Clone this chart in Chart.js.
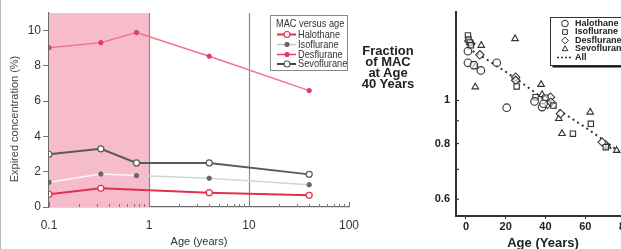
<!DOCTYPE html>
<html><head><meta charset="utf-8">
<script src="https://cdn.jsdelivr.net/npm/chart.js@4/dist/chart.umd.min.js"></script>
<style>
html,body{margin:0;padding:0;background:#fff;width:621px;height:249px;overflow:hidden;position:relative;font-family:"Liberation Sans",Arial,sans-serif}
#c1{position:absolute;left:0;top:0}
#c2{position:absolute;left:400px;top:0}
#frac{position:absolute;left:348px;top:45px;width:80px;text-align:center;font-weight:bold;font-size:13px;line-height:11px;color:#222}
#edge{position:absolute;left:0;top:0;width:1px;height:249px;background:#b5b5b5}
</style></head><body>
<div id="edge"></div>
<canvas id="c1" width="360" height="249"></canvas>
<div id="frac">Fraction<br>of MAC<br>at Age<br>40 Years</div>
<canvas id="c2" width="260" height="249"></canvas>
<script>
// ---------- Left chart data: MAC versus age ----------
const ageYears = [0.1, 0.33, 0.75, 4, 40];
const halothane   = [0.72, 1.06, null, 0.81, 0.66];
const isoflurane  = [1.40, 1.87, 1.78, 1.63, 1.26];
const desflurane  = [9.03, 9.32, 9.89, 8.55, 6.60];
const sevoflurane = [2.99, 3.30, 2.50, 2.50, 1.85];
const leftXLabels = [0.1, 1, 10, 100];
const leftYTicks = [0, 2, 4, 6, 8, 10];

// ---------- Right chart data: fraction of MAC at age 40 ----------
const haloAge = [1, 1, 4, 7.5, 15.5, 20.5, 34.5, 38.3, 39];
const haloVal = [1.29, 1.215, 1.20, 1.168, 1.215, 0.963, 0.995, 0.966, 0.983];
const isoAge = [1, 1.3, 2, 2.5, 25.5, 35, 40, 44, 53.8, 62.8, 70.3];
const isoVal = [1.40, 1.37, 1.35, 1.33, 1.075, 1.017, 1.014, 0.974, 0.842, 0.886, 0.785];
const desAge = [1.5, 2.5, 7, 25, 25, 41, 42.5, 42.7, 47.5, 68.5];
const desVal = [1.36, 1.34, 1.266, 1.128, 1.11, 0.98, 1.017, 0.991, 0.934, 0.806];
const sevoAge = [2, 4.7, 4.7, 7.7, 24.7, 37.8, 38.3, 46.7, 48.3, 62.5, 71.3, 75.8];
const sevoVal = [1.35, 1.19, 1.072, 1.329, 1.376, 1.086, 1.031, 0.910, 0.842, 0.941, 0.789, 0.772];
const trendAge = [1, 10, 20, 30, 40, 50, 60, 70, 80];
const trendVal = [1.31, 1.24, 1.16, 1.08, 1.0, 0.93, 0.87, 0.81, 0.75];
const rightYLabels = [0.6, 0.8, 1];
const rightXTicks = [0, 20, 40, 60, 80];

const FONT = '"Liberation Sans", Arial, sans-serif';
const pts = (xs, ys) => xs.map((x, i) => ({x: x, y: ys[i]}));
const noPad = s => { s.paddingLeft = 0; s.paddingRight = 0; s.paddingTop = 0; s.paddingBottom = 0; };

// ---------- Left chart ----------
const shadePlugin = {
  id: 'shade',
  beforeDatasetsDraw(chart) {
    const {ctx, chartArea: a, scales: {x}} = chart;
    ctx.save();
    ctx.fillStyle = '#f7bccb';
    const x0 = x.getPixelForValue(0.1), x1 = x.getPixelForValue(1);
    ctx.fillRect(x0, a.top, x1 - x0, a.bottom - a.top);
    ctx.strokeStyle = '#8a8a8a'; ctx.lineWidth = 1.2;
    [1, 10].forEach(v => { const p = Math.round(x.getPixelForValue(v)) + 0.5;
      ctx.beginPath(); ctx.moveTo(p, a.top); ctx.lineTo(p, a.bottom); ctx.stroke(); });
    ctx.strokeStyle = '#777'; ctx.lineWidth = 1;
    [0.1, 1, 10].forEach(d => { for (let k = 1; k <= 10; k++) {
      const v = d * k; if (v > 100) continue;
      const p = Math.round(x.getPixelForValue(v)) + 0.5;
      const len = (k === 1 || k === 10) ? 5 : 3;
      ctx.beginPath(); ctx.moveTo(p, a.bottom); ctx.lineTo(p, a.bottom - len); ctx.stroke(); } });
    ctx.restore();
  },
  afterDraw(chart) {
    const ctx = chart.ctx;
    ctx.save();
    ctx.translate(15, 119); ctx.rotate(-Math.PI / 2);
    ctx.fillStyle = '#444'; ctx.font = '11px ' + FONT; ctx.textAlign = 'center'; ctx.textBaseline = 'middle';
    ctx.fillText('Expired concentration (%)', 0, 0);
    ctx.restore();
  }
};
const leftLegend = {
  id: 'leftLegend',
  afterDraw(chart) {
    const ctx = chart.ctx;
    ctx.save();
    ctx.fillStyle = '#fff'; ctx.fillRect(270.5, 15.5, 77, 55);
    ctx.strokeStyle = '#8a8a8a'; ctx.lineWidth = 1; ctx.strokeRect(270.5, 15.5, 77, 55);
    ctx.textBaseline = 'middle';
    const txt = (s, x, y) => { ctx.save(); ctx.translate(x, y); ctx.scale(0.84, 1);
      ctx.fillStyle = '#333'; ctx.font = '11px ' + FONT; ctx.fillText(s, 0, 0); ctx.restore(); };
    txt('MAC versus age', 276, 23.5);
    const rows = [34.5, 44.5, 54.5, 64];
    chart.data.datasets.forEach((ds, i) => {
      const y = rows[i];
      ctx.strokeStyle = ds.legendLine; ctx.lineWidth = ds.borderWidth;
      ctx.beginPath(); ctx.moveTo(277, y); ctx.lineTo(296, y); ctx.stroke();
      ctx.beginPath(); ctx.arc(287, y, ds.pointRadius, 0, Math.PI * 2);
      ctx.fillStyle = ds.pointBackgroundColor; ctx.fill();
      ctx.strokeStyle = ds.pointBorderColor; ctx.lineWidth = ds.pointBorderWidth; ctx.stroke();
      txt(ds.label, 298, y);
    });
    ctx.restore();
  }
};

new Chart(document.getElementById('c1'), {
  type: 'line',
  data: { datasets: [
    { label: 'Halothane', data: pts(ageYears, halothane), spanGaps: true,
      borderColor: '#e2304f', legendLine: '#e2304f', borderWidth: 2,
      pointRadius: 3, pointBackgroundColor: '#fff', pointBorderColor: '#e2304f', pointBorderWidth: 1.2 },
    { label: 'Isoflurane', data: pts(ageYears, isoflurane),
      borderColor: '#d4d4d4', legendLine: '#c8c8c8', borderWidth: 1.5,
      segment: { borderColor: c => c.p1.parsed.x <= 0.8 ? '#fbf6f7' : '#d4d4d4' },
      pointRadius: 2.2, pointBackgroundColor: '#666', pointBorderColor: '#666', pointBorderWidth: 1 },
    { label: 'Desflurane', data: pts(ageYears, desflurane),
      borderColor: '#f0728f', legendLine: '#e8405f', borderWidth: 1.5,
      pointRadius: 2.2, pointBackgroundColor: '#e23e63', pointBorderColor: '#e23e63', pointBorderWidth: 1 },
    { label: 'Sevoflurane', data: pts(ageYears, sevoflurane),
      borderColor: '#5a5a5a', legendLine: '#444', borderWidth: 2,
      pointRadius: 3, pointBackgroundColor: '#fff', pointBorderColor: '#5a5a5a', pointBorderWidth: 1.2 }
  ]},
  options: {
    responsive: false, animation: false, events: [],
    layout: { padding: { top: 13, right: 11, left: 0, bottom: 0 } },
    plugins: { legend: { display: false }, tooltip: { enabled: false } },
    scales: {
      x: { type: 'logarithmic', min: 0.1, max: 100,
        afterBuildTicks: s => { s.ticks = leftXLabels.map(v => ({value: v})); },
        afterFit: s => { s.height = 42; noPad(s); },
        grid: { display: false, drawTicks: false },
        border: { display: true, color: '#6a6a6a', width: 1.2 },
        ticks: { autoSkip: false, maxRotation: 0, padding: 11, color: '#333',
          font: { family: FONT, size: 12 }, callback: v => String(v) },
        title: { display: true, text: 'Age (years)', color: '#333', padding: { top: 2, bottom: 0 },
          font: { family: FONT, size: 11 } } },
      y: { min: 0, max: 11,
        afterBuildTicks: s => { s.ticks = leftYTicks.map(v => ({value: v})); },
        afterFit: s => { s.width = 49; noPad(s); },
        grid: { drawOnChartArea: false, drawTicks: true, tickLength: 6, color: '#777' },
        border: { display: true, color: '#6a6a6a', width: 1.2 },
        ticks: { padding: 2, color: '#333', font: { family: FONT, size: 12 } } }
    }
  },
  plugins: [shadePlugin, leftLegend]
});

// ---------- Right chart ----------
const rightDecor = {
  id: 'rightDecor',
  afterDraw(chart) {
    const ctx = chart.ctx;
    const {chartArea: a, scales: {y}} = chart;
    ctx.save();
    ctx.strokeStyle = '#333'; ctx.lineWidth = 1.2;
    [0.6, 0.7, 0.8, 0.9, 1.0].forEach(v => { const p = y.getPixelForValue(v);
      ctx.beginPath(); ctx.moveTo(a.left, p); ctx.lineTo(a.left + 3, p); ctx.stroke(); });
    // x axis title
    ctx.fillStyle = '#222'; ctx.font = 'bold 13px ' + FONT; ctx.textAlign = 'center'; ctx.textBaseline = 'middle';
    ctx.fillText('Age (Years)', 143, 243);
    ctx.textAlign = 'left';
    // legend
    const bx = 150.5, by = 17.5, bw = 90, bh = 48;
    ctx.fillStyle = '#111'; ctx.fillRect(bx + 2, by + 2, bw, bh);
    ctx.fillStyle = '#fff'; ctx.fillRect(bx, by, bw, bh);
    ctx.strokeStyle = '#333'; ctx.lineWidth = 1; ctx.strokeRect(bx, by, bw, bh);
    ctx.font = 'bold 9px ' + FONT; ctx.textBaseline = 'middle';
    const rows = [23.5, 32, 40.5, 49, 57.5];
    chart.data.datasets.forEach((ds, i) => {
      const yy = rows[i];
      ctx.strokeStyle = '#333'; ctx.fillStyle = '#fff'; ctx.lineWidth = 1;
      if (ds.type === 'line') {
        ctx.setLineDash([2, 2]); ctx.lineWidth = 1.5;
        ctx.beginPath(); ctx.moveTo(157, yy); ctx.lineTo(172, yy); ctx.stroke(); ctx.setLineDash([]);
      } else {
        Chart.helpers.drawPoint(ctx, { pointStyle: ds.pointStyle, radius: 3.3, borderWidth: 1 }, 165, yy);
      }
      ctx.fillStyle = '#222'; ctx.fillText(ds.label, 175, yy);
    });
    ctx.restore();
  }
};
const mk = (label, xs, ys, style) => ({ type: 'scatter', label: label, data: pts(xs, ys), pointStyle: style,
  pointRadius: style === 'rectRot' ? 4.2 : 3.8, backgroundColor: 'rgba(255,255,255,0.6)', borderColor: '#333', borderWidth: 1.1 });

new Chart(document.getElementById('c2'), {
  type: 'scatter',
  data: { datasets: [
    mk('Halothane', haloAge, haloVal, 'circle'),
    mk('Isoflurane', isoAge, isoVal, 'rect'),
    mk('Desflurane', desAge, desVal, 'rectRot'),
    mk('Sevoflurane', sevoAge, sevoVal, 'triangle'),
    { type: 'line', label: 'All', data: pts(trendAge, trendVal), borderColor: '#333', borderWidth: 2,
      borderDash: [2, 3.5], pointRadius: 0, fill: false }
  ]},
  options: {
    responsive: false, animation: false, events: [],
    layout: { padding: { top: 12, right: 30, left: 0, bottom: 0 } },
    plugins: { legend: { display: false }, tooltip: { enabled: false } },
    scales: {
      x: { type: 'linear', min: -5, max: 82.5,
        afterBuildTicks: s => { s.ticks = rightXTicks.map(v => ({value: v})); },
        afterFit: s => { s.height = 33; noPad(s); },
        grid: { drawOnChartArea: false, drawTicks: true, tickLength: 3, color: '#333' },
        border: { display: true, color: '#333', width: 2 },
        ticks: { padding: 1, color: '#222', font: { family: FONT, size: 11, weight: 'bold' } } },
      y: { type: 'logarithmic', min: 0.55, max: 1.58,
        afterBuildTicks: s => { s.ticks = rightYLabels.map(v => ({value: v})); },
        afterFit: s => { s.width = 56; noPad(s); },
        grid: { display: false, drawTicks: false },
        border: { display: true, color: '#333', width: 2 },
        ticks: { padding: 6, color: '#222', font: { family: FONT, size: 11, weight: 'bold' }, callback: v => String(v) } }
    }
  },
  plugins: [rightDecor]
});
</script>
</body></html>
